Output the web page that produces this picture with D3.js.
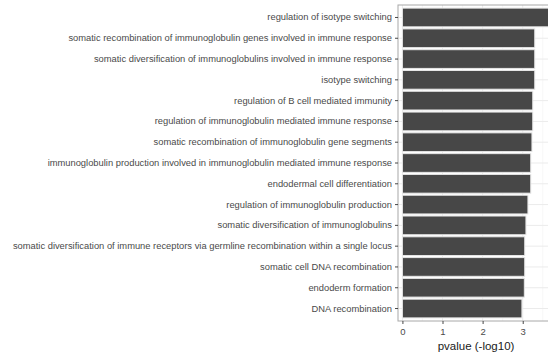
<!DOCTYPE html>
<html>
<head>
<meta charset="utf-8">
<script src="https://cdn.jsdelivr.net/npm/d3@7"></script>
<style>
  html, body { margin: 0; padding: 0; background: #fff; }
  svg { display: block; font-family: "Liberation Sans", Arial, sans-serif; }
</style>
</head>
<body>
<svg id="chart" width="548" height="359"></svg>
<script>
// GO terms, top to bottom
const terms = [
  "regulation of isotype switching",
  "somatic recombination of immunoglobulin genes involved in immune response",
  "somatic diversification of immunoglobulins involved in immune response",
  "isotype switching",
  "regulation of B cell mediated immunity",
  "regulation of immunoglobulin mediated immune response",
  "somatic recombination of immunoglobulin gene segments",
  "immunoglobulin production involved in immunoglobulin mediated immune response",
  "endodermal cell differentiation",
  "regulation of immunoglobulin production",
  "somatic diversification of immunoglobulins",
  "somatic diversification of immune receptors via germline recombination within a single locus",
  "somatic cell DNA recombination",
  "endoderm formation",
  "DNA recombination"
];
// enrichment, -log10(p)
const pvalues = [3.75, 3.30, 3.30, 3.30, 3.25, 3.25, 3.23, 3.20, 3.20, 3.13, 3.08, 3.05, 3.05, 3.04, 2.98];
const xTicks = [0, 1, 2, 3];
const xTitle = "pvalue (-log10)";

const svg = d3.select("#chart");
const panel = { left: 398, right: 554, top: 5, bottom: 321 };

// x: 0 sits a little inside the panel edge (ggplot-style expansion)
const x = d3.scaleLinear()
  .domain([-0.11, 3.78])
  .range([panel.left, panel.right]);

// discrete axis: category centres 0.6 steps in from each panel edge
const y = d3.scaleBand()
  .domain(terms)
  .range([panel.top, panel.bottom])
  .paddingInner(0.1)
  .paddingOuter(0.15);

// grid lines
const g = svg.append("g");
const minor = d3.range(0.5, 4, 1);
g.selectAll(".vminor").data(minor).join("line")
  .attr("x1", d => x(d)).attr("x2", d => x(d))
  .attr("y1", panel.top).attr("y2", panel.bottom)
  .attr("stroke", "#f2f2f2").attr("stroke-width", 0.6);
g.selectAll(".vmajor").data(xTicks).join("line")
  .attr("x1", d => x(d)).attr("x2", d => x(d))
  .attr("y1", panel.top).attr("y2", panel.bottom)
  .attr("stroke", "#ebebeb").attr("stroke-width", 1);
g.selectAll(".hmajor").data(terms).join("line")
  .attr("x1", panel.left).attr("x2", panel.right)
  .attr("y1", d => y(d) + y.bandwidth() / 2).attr("y2", d => y(d) + y.bandwidth() / 2)
  .attr("stroke", "#ebebeb").attr("stroke-width", 1);

// bars
svg.append("g").selectAll("rect").data(terms).join("rect")
  .attr("x", x(0))
  .attr("y", d => y(d))
  .attr("width", (d, i) => x(pvalues[i]) - x(0))
  .attr("height", y.bandwidth())
  .attr("fill", "#474747")
  .attr("stroke", "#e6e6e6")
  .attr("stroke-width", 1);

// panel border
svg.append("rect")
  .attr("x", panel.left).attr("y", panel.top)
  .attr("width", panel.right - panel.left).attr("height", panel.bottom - panel.top)
  .attr("fill", "none").attr("stroke", "#a8a8a8").attr("stroke-width", 1);

// y axis
const yAxis = svg.append("g")
  .attr("transform", `translate(${panel.left},0)`)
  .call(d3.axisLeft(y).tickSize(3).tickPadding(3));
yAxis.select(".domain").remove();
yAxis.selectAll("line").attr("stroke", "#333").attr("stroke-width", 0.9);
yAxis.selectAll("text")
  .attr("fill", "#4a4a4a")
  .style("font-size", "9.35px");

// x axis
const xAxis = svg.append("g")
  .attr("transform", `translate(0,${panel.bottom})`)
  .call(d3.axisBottom(x).tickValues(xTicks).tickFormat(d3.format("d")).tickSize(3).tickPadding(4));
xAxis.select(".domain").remove();
xAxis.selectAll("line").attr("stroke", "#333").attr("stroke-width", 0.9);
xAxis.selectAll("text")
  .attr("fill", "#4a4a4a")
  .style("font-size", "9.5px");

// axis title
svg.append("text")
  .attr("x", (panel.left + panel.right) / 2)
  .attr("y", 350)
  .attr("text-anchor", "middle")
  .attr("fill", "#1a1a1a")
  .style("font-size", "11.5px")
  .text(xTitle);
</script>
</body>
</html>
